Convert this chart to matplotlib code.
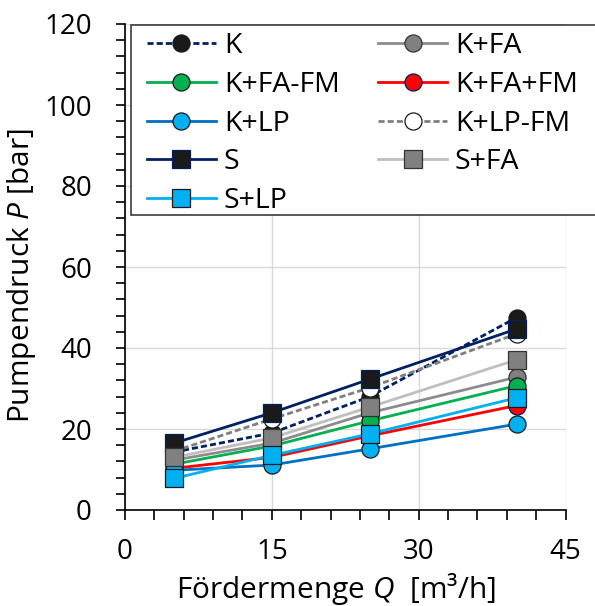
import matplotlib
matplotlib.use("Agg")
import matplotlib.pyplot as plt
from matplotlib.ticker import MultipleLocator
from matplotlib.patches import Rectangle

plt.rcParams['font.family'] = ['Open Sans', 'DejaVu Sans']
plt.rcParams['mathtext.fontset'] = 'custom'
plt.rcParams['mathtext.it'] = 'Open Sans:italic'
plt.rcParams['mathtext.rm'] = 'Open Sans'

Q = [5, 15, 25, 40]
K = [14.3, 19.0, 28.0, 47.5]
K_FA = [12.3, 16.5, 24.0, 32.8]
K_FA_FM = [11.3, 15.8, 22.0, 30.7]
K_FA_PFM = [10.3, 13.0, 18.3, 25.8]
K_LP = [9.8, 11.1, 15.1, 21.2]
K_LP_FM = [14.5, 22.5, 30.2, 43.5]
S = [16.5, 24.0, 32.3, 44.7]
S_FA = [13.0, 17.8, 25.4, 37.1]
S_LP = [7.8, 13.5, 18.8, 27.7]

dash = (0, (2.2, 1.1))
series = [
    ("K", K, dict(color='#002060', ls=dash, marker='o', mfc='#1a1a1a', mec='#1a1a1a')),
    ("K+FA", K_FA, dict(color='#8c8c8c', ls='-', marker='o', mfc='#808080', mec='#333333')),
    ("K+FA-FM", K_FA_FM, dict(color='#00B050', ls='-', marker='o', mfc='#00B050', mec='#1a1a1a')),
    ("K+FA+FM", K_FA_PFM, dict(color='#FF0000', ls='-', marker='o', mfc='#FF0000', mec='#002060')),
    ("K+LP", K_LP, dict(color='#0070C0', ls='-', marker='o', mfc='#00B0F0', mec='#1a1a1a')),
    ("K+LP-FM", K_LP_FM, dict(color='#808080', ls=dash, marker='o', mfc='white', mec='#1a1a1a')),
    ("S", S, dict(color='#002060', ls='-', marker='s', mfc='#1a1a1a', mec='#002060')),
    ("S+FA", S_FA, dict(color='#BFBFBF', ls='-', marker='s', mfc='#808080', mec='#333333')),
    ("S+LP", S_LP, dict(color='#00B0F0', ls='-', marker='s', mfc='#00B0F0', mec='#1a1a1a')),
]

W, H = 595, 606
fig = plt.figure(figsize=(W / 100, H / 100), dpi=100)
ax = fig.add_axes([125 / W, (H - 510) / H, 440.5 / W, 486 / H])

handles = {}
for name, vals, st in series:
    h, = ax.plot(Q, vals, lw=2.0, ms=12.3, mew=0.9, label=name, **st)
    handles[name] = h

ax.set_xlim(0, 45)
ax.set_ylim(0, 120)
ax.xaxis.set_major_locator(MultipleLocator(15))
ax.xaxis.set_minor_locator(MultipleLocator(3))
ax.yaxis.set_major_locator(MultipleLocator(20))
ax.yaxis.set_minor_locator(MultipleLocator(4))
ax.grid(True, which='major', color='#d9d9d9', lw=1)
ax.set_axisbelow(True)
for s in ['top', 'right']:
    ax.spines[s].set_visible(False)
for s in ['left', 'bottom']:
    ax.spines[s].set_linewidth(1.2)
ax.tick_params(axis='y', which='both', direction='out', length=6.8, width=1.2, labelsize=20, pad=17)
ax.tick_params(axis='x', which='both', direction='out', length=7.2, width=1.2, labelsize=20, pad=13)

ax.set_xlabel(r"Fördermenge $Q$  [m³/h]", fontsize=21.5)
ax.set_ylabel(r"Pumpendruck $P$ [bar]", fontsize=21.5)
ax.xaxis.set_label_coords(0.479, -0.125)
ax.yaxis.set_label_coords(-0.197, 0.483)

# legend frame (extends past the right edge of the figure)
frame = Rectangle((131 / W, (H - 215) / H), 1.0, 190 / H, transform=fig.transFigure,
                  facecolor='white', edgecolor='#2b2b2b', lw=1.1, clip_on=False, zorder=4)
ax.add_patch(frame)
ax.set_xlim(0, 45)
ax.set_ylim(0, 120)

order = ["K", "K+FA-FM", "K+LP", "S", "S+LP", "K+FA", "K+FA+FM", "K+LP-FM", "S+FA"]
leg = ax.legend([handles[n] for n in order], order, ncol=2, loc='upper left',
                bbox_to_anchor=(147 / W, (H - 32) / H), bbox_transform=fig.transFigure,
                fontsize=20.5, frameon=False, borderpad=0, labelspacing=0.38,
                handlelength=2.42, handletextpad=0.28, columnspacing=1.35, borderaxespad=0)
leg.set_zorder(5)

fig.savefig("out.png", dpi=100)
